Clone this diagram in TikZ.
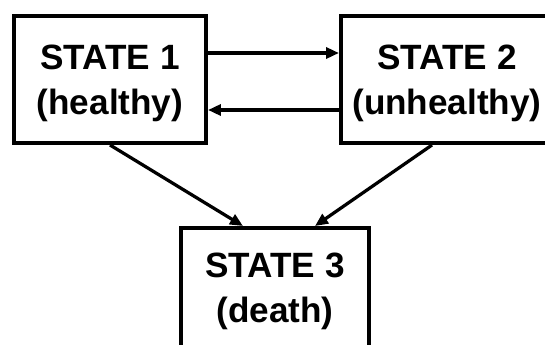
\documentclass[tikz,border=0pt]{standalone}
\usepackage{fontspec}
\setmainfont{Liberation Sans}
\usetikzlibrary{arrows.meta,positioning}

\begin{document}
\begin{tikzpicture}[x=0.02cm,y=-0.02cm,
  state/.style={draw,line width=0.08cm,align=center,inner sep=0pt,text depth=0pt,
    font=\fontsize{20}{25.6}\selectfont\bfseries},
  trans/.style={-{Triangle[length=0.26cm,width=0.22cm]},line width=0.065cm}]
  \useasboundingbox (0,0) rectangle (545,345);
  \clip (0,0) rectangle (545,345);

  % States
  \node[state,minimum width=3.84cm,minimum height=2.54cm] (s1) at (110,79.5) {STATE 1\\(healthy)};
  \node[state,minimum width=4.24cm,minimum height=2.54cm] (s2) at (447,79.5) {STATE 2\\(unhealthy)};
  \node[state,minimum width=3.76cm,minimum height=2.4cm]  (s3) at (275,288) {STATE 3\\(death)};

  % Transitions
  \draw[trans] ([yshift=0.53cm]s1.east) -- ([yshift=0.53cm]s2.west);
  \draw[trans] ([yshift=-0.61cm]s2.west) -- ([yshift=-0.61cm]s1.east);
  \draw[trans] (s1.south) -- ([xshift=-0.64cm]s3.north);
  \draw[trans] ([xshift=-0.3cm]s2.south) -- ([xshift=0.8cm]s3.north);
\end{tikzpicture}
\end{document}
